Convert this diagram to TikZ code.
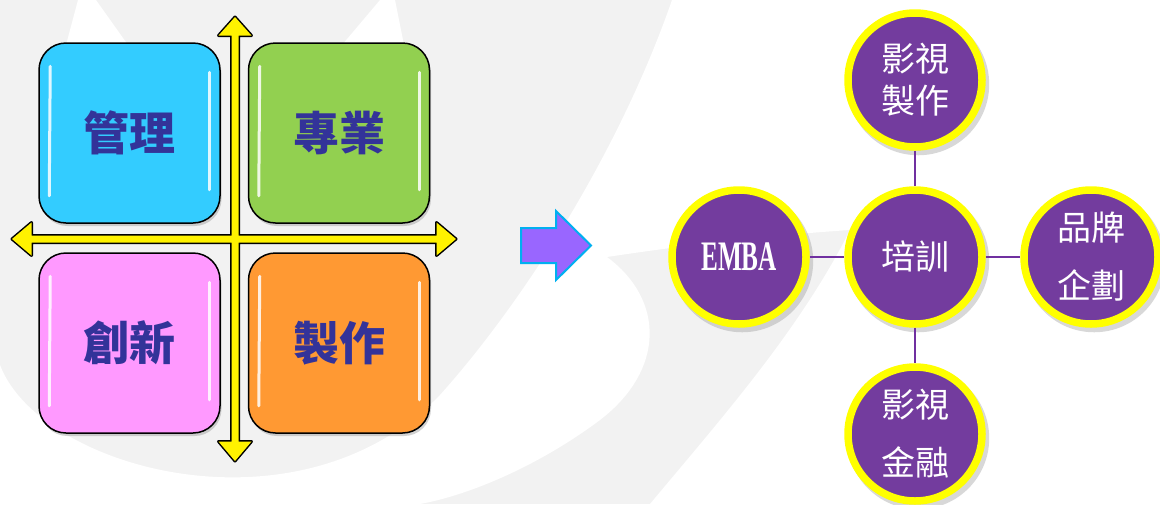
\documentclass[tikz,border=0pt]{standalone}
\usepackage{fontspec}
\setmainfont{Liberation Serif}
\newfontfamily\cjk{Noto Sans CJK TC}
\usetikzlibrary{shadows}
\definecolor{bggray}{RGB}{242,242,242}
\definecolor{quadblue}{RGB}{51,204,255}
\definecolor{quadgreen}{RGB}{146,208,80}
\definecolor{quadpink}{RGB}{255,153,255}
\definecolor{quadorange}{RGB}{255,153,51}
\definecolor{quadtext}{RGB}{51,51,153}
\definecolor{ringyellow}{RGB}{255,255,0}
\definecolor{discpurple}{RGB}{115,60,158}
\definecolor{linkpurple}{RGB}{112,48,160}
\definecolor{arrowviolet}{RGB}{153,102,255}
\definecolor{arrowcyan}{RGB}{0,176,240}
\tikzset{
    quad/.style={draw=black, line width=1.5pt, rounded corners=27pt,
        minimum width=181pt, minimum height=180pt, inner sep=0pt,
        font=\cjk\bfseries\fontsize{46}{50}\selectfont, text=quadtext,
        drop shadow={shadow xshift=1.5pt, shadow yshift=-3pt, opacity=0.35}},
    gloss/.style={white, line width=3pt, line cap=round, opacity=0.85},
    ring/.style={circle, draw=ringyellow, line width=7.5pt, fill=discpurple,
        minimum size=134pt, inner sep=0pt, text=white, align=center,
        font=\cjk\fontsize{34}{42}\selectfont,
        drop shadow={shadow xshift=3pt, shadow yshift=-4pt, shadow scale=1.06, opacity=0.3}},
    link/.style={draw=linkpurple, line width=2pt}
}
\begin{document}
\begin{tikzpicture}[x=1pt, y=-1pt]
    \useasboundingbox (0,0) rectangle (1160,504);
    \fill[bggray] (0,0) rectangle (1160,504);
    \fill[white] (672,0) -- (1160,0) -- (1160,504) -- (650,504)
        .. controls (720,420) and (800,330) .. (850,230)
        .. controls (760,236) and (680,246) .. (607,257)
        .. controls (665,300) and (665,370) .. (600,420)
        .. controls (540,465) and (470,495) .. (420,504)
        -- (0,504) -- (0,365)
        .. controls (40,470) and (300,540) .. (440,395)
        .. controls (525,300) and (620,150) .. (672,0) -- cycle;
    \fill[white] (78,0) -- (96,0) -- (128,45) -- (66,45) -- cycle;
    \fill[white] (380,0) -- (395,0) -- (404,45) -- (342,45) -- cycle;

    \node[quad, fill=quadblue] (q1) at (129.5,133) {管理};
    \node[quad, fill=quadgreen] (q2) at (339,133) {專業};
    \node[quad, fill=quadpink] (q3) at (129.5,343) {創新};
    \node[quad, fill=quadorange] (q4) at (339,343) {製作};
    \draw[gloss] ([xshift=12pt,yshift=-24pt]q1.north west) -- ([xshift=11pt,yshift=28pt]q1.south west);
    \draw[gloss] ([xshift=-11pt,yshift=-30pt]q1.north east) -- ([xshift=-11pt,yshift=34pt]q1.south east);
    \draw[gloss] ([xshift=12pt,yshift=-24pt]q2.north west) -- ([xshift=11pt,yshift=28pt]q2.south west);
    \draw[gloss] ([xshift=-11pt,yshift=-30pt]q2.north east) -- ([xshift=-11pt,yshift=34pt]q2.south east);
    \draw[gloss] ([xshift=12pt,yshift=-24pt]q3.north west) -- ([xshift=11pt,yshift=28pt]q3.south west);
    \draw[gloss] ([xshift=-11pt,yshift=-30pt]q3.north east) -- ([xshift=-11pt,yshift=34pt]q3.south east);
    \draw[gloss] ([xshift=12pt,yshift=-24pt]q4.north west) -- ([xshift=11pt,yshift=28pt]q4.south west);
    \draw[gloss] ([xshift=-11pt,yshift=-30pt]q4.north east) -- ([xshift=-11pt,yshift=34pt]q4.south east);

    \path[preaction={draw=black, line width=3pt, line join=round}, fill=yellow]
        (235,17) -- (251.5,35.5) -- (238.5,35.5) -- (238.5,441.5) -- (251.5,441.5)
        -- (235,461) -- (218.5,441.5) -- (231.5,441.5) -- (231.5,35.5) -- (218.5,35.5) -- cycle
        (12,239) -- (31.5,222.5) -- (31.5,235.5) -- (436.5,235.5) -- (436.5,222.5)
        -- (456,239) -- (436.5,255.5) -- (436.5,242.5) -- (31.5,242.5) -- (31.5,255.5) -- cycle;

    \draw[fill=arrowviolet, draw=arrowcyan, line width=2pt]
        (521,228) -- (556,228) -- (556,211) -- (591,245.5) -- (556,280) -- (556,263) -- (521,263) -- cycle;

    \node[ring] (c0) at (915,257) {培訓};
    \node[ring] (c1) at (915,80) {影視\\製作};
    \node[ring] (c2) at (739,257) {\rmfamily\bfseries\fontsize{42}{42}\selectfont\scalebox{0.6}[1]{EMBA}};
    \node[ring] (c3) at (1091,257) {品牌\\[16pt]企劃};
    \node[ring] (c4) at (915,434) {影視\\[16pt]金融};
    \draw[link] (c1) -- (c0);
    \draw[link] (c2) -- (c0);
    \draw[link] (c0) -- (c3);
    \draw[link] (c0) -- (c4);
\end{tikzpicture}
\end{document}
